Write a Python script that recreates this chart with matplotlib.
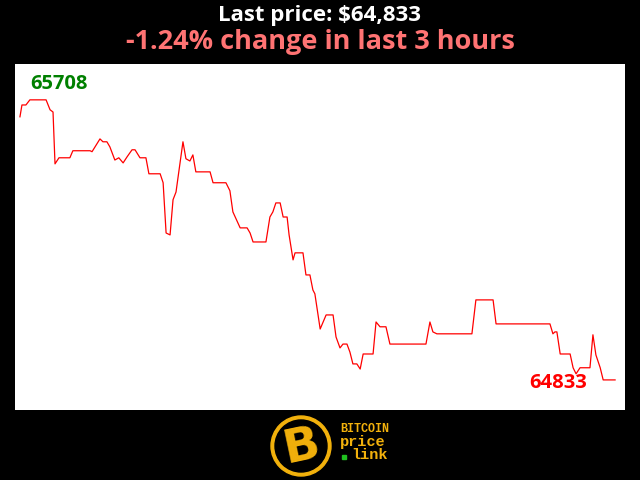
import numpy as np
import matplotlib.pyplot as plt
from matplotlib.patches import Circle

# minutes since start of the 3 hour window, and BTC price
minutes = [0.0, 0.6, 1.8, 3.0, 7.9, 9.1, 10.0, 10.6, 11.8, 15.1, 16.0, 21.2, 21.8,
           24.2, 25.1, 26.3, 27.2, 28.7, 29.9, 31.2, 32.4, 33.9, 34.8, 36.3, 38.1,
           39.0, 42.4, 43.3, 44.2, 45.4, 46.3, 47.2, 49.3, 50.2, 51.4, 52.3, 53.2,
           57.5, 58.4, 62.3, 63.5, 64.4, 66.6, 68.7, 69.6, 70.5, 74.4, 75.6, 76.5,
           77.4, 78.7, 79.6, 80.8, 81.4, 82.6, 83.2, 85.6, 86.5, 87.7, 88.6, 89.2,
           90.8, 92.6, 94.7, 95.6, 96.8, 97.7, 98.9, 99.8, 100.7, 101.9, 102.9,
           103.8, 106.8, 107.7, 108.9, 110.7, 111.9, 122.8, 124.0, 124.9, 126.1,
           136.7, 137.9, 143.1, 144.0, 160.3, 161.2, 161.8, 162.4, 163.4, 166.4,
           167.3, 168.2, 169.4, 172.4, 173.3, 174.2, 175.5, 176.4, 180.0]
prices = [65655, 65692, 65692, 65708, 65708, 65677, 65670, 65508, 65527, 65527,
          65549, 65549, 65546, 65586, 65577, 65577, 65561, 65520, 65527, 65511,
          65530, 65552, 65552, 65527, 65527, 65477, 65477, 65449, 65292, 65286,
          65396, 65420, 65577, 65524, 65517, 65536, 65483, 65483, 65449, 65449,
          65424, 65358, 65308, 65308, 65292, 65264, 65264, 65342, 65358, 65386,
          65386, 65342, 65342, 65286, 65208, 65230, 65230, 65161, 65161, 65114,
          65102, 64992, 65036, 65036, 64967, 64933, 64945, 64945, 64920, 64883,
          64883, 64867, 64914, 64914, 65014, 64999, 64999, 64945, 64945, 65014,
          64983, 64977, 64977, 65083, 65083, 65008, 65008, 64977, 64983, 64983,
          64914, 64914, 64871, 64852, 64871, 64871, 64974, 64911, 64871, 64833,
          64833]

last_price = 64833
high_price = 65708
pct_change = -1.24

fig = plt.figure(figsize=(6.4, 4.8), dpi=100, facecolor='black')

ax = fig.add_axes([15/640, 70/480, 610/640, 346/480])
ax.plot(minutes, prices, color='red', lw=0.9)
ax.set_xlim(-1.5, 183.0)
ax.set_ylim(64739, 65820)
ax.set_facecolor('white')
ax.set_xticks([])
ax.set_yticks([])
for s in ax.spines.values():
    s.set_visible(False)

ax.text(3.0, high_price + 50, str(high_price), color='green', fontsize=14.5,
        fontweight='bold', family='Open Sans', va='center', ha='left')
ax.text(171.5, last_price - 10, str(last_price), color='red', fontsize=14.5,
        fontweight='bold', family='Open Sans', va='center', ha='right')

fig.text(0.5, 1 - 16/480, 'Last price: ${:,}'.format(last_price), color='white',
         fontsize=16, fontweight='bold', family='Open Sans', ha='center', va='center')
fig.text(0.5, 1 - 42/480, '{:.2f}% change in last 3 hours'.format(pct_change),
         color='#ff7373', fontsize=19.5, fontweight='bold', family='Open Sans',
         ha='center', va='center')

# logo
lax = fig.add_axes([260/640, 0, 150/640, 70/480])
lax.set_xlim(260, 410)
lax.set_ylim(480, 410)
lax.set_aspect('equal')
lax.axis('off')
gold = '#f2b10c'
lax.add_patch(Circle((301, 446), 30, color=gold))
lax.add_patch(Circle((301, 446), 26, color='black'))
lax.text(302, 447, 'B', color=gold, fontsize=34, fontweight='bold',
         family='DejaVu Sans', ha='center', va='center', rotation=12)
lax.text(340, 429, 'BITCOIN', color=gold, fontsize=8.5, fontweight='bold',
         family='Liberation Mono', ha='left', va='center')
lax.text(340, 442, 'price', color=gold, fontsize=11, fontweight='bold',
         family='Liberation Mono', ha='left', va='center')
lax.plot([344], [457], 's', color='#20c020', ms=2.5)
lax.text(351, 455, 'link', color=gold, fontsize=11, fontweight='bold',
         family='Liberation Mono', ha='left', va='center')

fig.savefig('out.png', dpi=100, facecolor='black')
